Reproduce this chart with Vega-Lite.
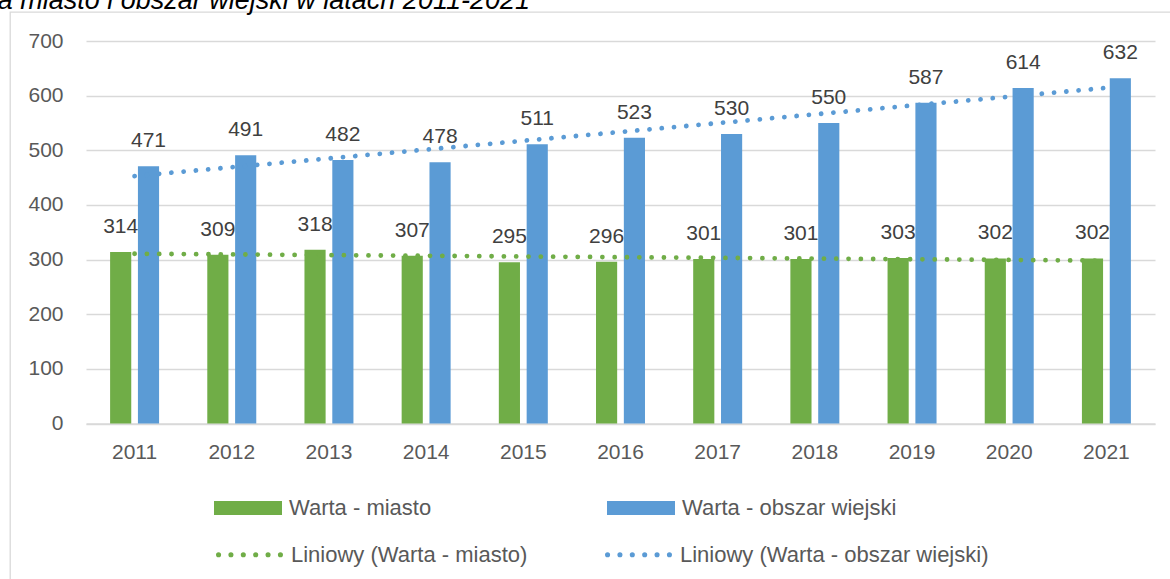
{
  "$schema": "https://vega.github.io/schema/vega-lite/v6.json",
  "autosize": {"type": "none"},
  "padding": {"left": 10, "top": 12, "right": 0, "bottom": 0},
  "width": 1165,
  "height": 570,
  "background": "white",
  "config": {
    "font": "Liberation Sans",
    "view": {"stroke": "#d9d9d9", "strokeWidth": 1.3}
  },
  "title": {
    "text": "Liczba mieszkańców gminy Warta miasto i obszar wiejski w latach 2011-2021",
    "anchor": "end",
    "frame": "group",
    "dx": -645,
    "dy": 30,
    "offset": 6,
    "baseline": "alphabetic",
    "fontSize": 27,
    "fontStyle": "italic",
    "fontWeight": "normal",
    "color": "#000000"
  },
  "data": {
    "values": [
      {"year": 2011, "series": "Warta - miasto", "trend": "Liniowy (Warta - miasto)", "value": 314},
      {"year": 2011, "series": "Warta - obszar wiejski", "trend": "Liniowy (Warta - obszar wiejski)", "value": 471},
      {"year": 2012, "series": "Warta - miasto", "trend": "Liniowy (Warta - miasto)", "value": 309},
      {"year": 2012, "series": "Warta - obszar wiejski", "trend": "Liniowy (Warta - obszar wiejski)", "value": 491},
      {"year": 2013, "series": "Warta - miasto", "trend": "Liniowy (Warta - miasto)", "value": 318},
      {"year": 2013, "series": "Warta - obszar wiejski", "trend": "Liniowy (Warta - obszar wiejski)", "value": 482},
      {"year": 2014, "series": "Warta - miasto", "trend": "Liniowy (Warta - miasto)", "value": 307},
      {"year": 2014, "series": "Warta - obszar wiejski", "trend": "Liniowy (Warta - obszar wiejski)", "value": 478},
      {"year": 2015, "series": "Warta - miasto", "trend": "Liniowy (Warta - miasto)", "value": 295},
      {"year": 2015, "series": "Warta - obszar wiejski", "trend": "Liniowy (Warta - obszar wiejski)", "value": 511},
      {"year": 2016, "series": "Warta - miasto", "trend": "Liniowy (Warta - miasto)", "value": 296},
      {"year": 2016, "series": "Warta - obszar wiejski", "trend": "Liniowy (Warta - obszar wiejski)", "value": 523},
      {"year": 2017, "series": "Warta - miasto", "trend": "Liniowy (Warta - miasto)", "value": 301},
      {"year": 2017, "series": "Warta - obszar wiejski", "trend": "Liniowy (Warta - obszar wiejski)", "value": 530},
      {"year": 2018, "series": "Warta - miasto", "trend": "Liniowy (Warta - miasto)", "value": 301},
      {"year": 2018, "series": "Warta - obszar wiejski", "trend": "Liniowy (Warta - obszar wiejski)", "value": 550},
      {"year": 2019, "series": "Warta - miasto", "trend": "Liniowy (Warta - miasto)", "value": 303},
      {"year": 2019, "series": "Warta - obszar wiejski", "trend": "Liniowy (Warta - obszar wiejski)", "value": 587},
      {"year": 2020, "series": "Warta - miasto", "trend": "Liniowy (Warta - miasto)", "value": 302},
      {"year": 2020, "series": "Warta - obszar wiejski", "trend": "Liniowy (Warta - obszar wiejski)", "value": 614},
      {"year": 2021, "series": "Warta - miasto", "trend": "Liniowy (Warta - miasto)", "value": 302},
      {"year": 2021, "series": "Warta - obszar wiejski", "trend": "Liniowy (Warta - obszar wiejski)", "value": 632}
    ]
  },
  "encoding": {
    "x": {
      "field": "year",
      "type": "ordinal",
      "scale": {"range": [76, 1145], "paddingInner": 0.496, "paddingOuter": 0.248},
      "axis": {
        "title": null,
        "orient": "bottom",
        "offset": -158.5,
        "labelAngle": 0,
        "labelFontSize": 21,
        "labelColor": "#595959",
        "labelPadding": 18,
        "ticks": false,
        "domain": true,
        "domainColor": "#d9d9d9",
        "domainWidth": 1.3,
        "grid": false
      }
    },
    "y": {
      "field": "value",
      "type": "quantitative",
      "scale": {"domain": [0, 700], "range": [411.5, 29], "nice": false},
      "axis": {
        "title": null,
        "values": [0, 100, 200, 300, 400, 500, 600, 700],
        "offset": -76,
        "labelFontSize": 21,
        "labelColor": "#595959",
        "labelPadding": 23,
        "ticks": false,
        "domain": false,
        "grid": true,
        "gridColor": "#d9d9d9",
        "gridWidth": 1.3
      }
    }
  },
  "layer": [
    {
      "mark": {"type": "bar"},
      "encoding": {
        "xOffset": {"field": "series", "type": "nominal", "scale": {"paddingInner": 0.24, "paddingOuter": 0}},
        "color": {
          "field": "series",
          "type": "nominal",
          "scale": {"domain": ["Warta - miasto", "Warta - obszar wiejski"], "range": ["#70AD47", "#5B9BD5"]},
          "legend": {
            "title": null,
            "orient": "none",
            "legendX": 204,
            "legendY": 462,
            "direction": "horizontal",
            "columns": 2,
            "columnPadding": 175,
            "padding": 0,
            "symbolType": "M-1,-0.206H1V0.206H-1Z",
            "symbolSize": 4624,
            "symbolStrokeWidth": 0,
            "labelOffset": 7,
            "labelFontSize": 22,
            "labelColor": "#595959",
            "labelLimit": 400
          }
        }
      }
    },
    {
      "mark": {"type": "text", "dy": -19, "baseline": "alphabetic", "fontSize": 21, "color": "#404040"},
      "encoding": {
        "xOffset": {"field": "series", "type": "nominal", "scale": {"paddingInner": 0.24, "paddingOuter": 0}},
        "text": {"field": "value", "type": "quantitative"}
      }
    },
    {
      "transform": [
        {"regression": "value", "on": "year", "groupby": ["trend"]}
      ],
      "mark": {"type": "line", "strokeDash": [0.01, 12.3], "strokeWidth": 4.8, "strokeCap": "round"},
      "encoding": {
        "stroke": {
          "field": "trend",
          "type": "nominal",
          "scale": {"domain": ["Liniowy (Warta - miasto)", "Liniowy (Warta - obszar wiejski)"], "range": ["#70AD47", "#5B9BD5"]},
          "legend": {
            "title": null,
            "orient": "none",
            "legendX": 204,
            "legendY": 507,
            "direction": "horizontal",
            "columns": 2,
            "columnPadding": 73,
            "padding": 0,
            "symbolType": "M-0.947,0a0.037,0.037 0 1,0 0.074,0a0.037,0.037 0 1,0 -0.074,0M-0.583,0a0.037,0.037 0 1,0 0.074,0a0.037,0.037 0 1,0 -0.074,0M-0.219,0a0.037,0.037 0 1,0 0.074,0a0.037,0.037 0 1,0 -0.074,0M0.145,0a0.037,0.037 0 1,0 0.074,0a0.037,0.037 0 1,0 -0.074,0M0.509,0a0.037,0.037 0 1,0 0.074,0a0.037,0.037 0 1,0 -0.074,0M0.873,0a0.037,0.037 0 1,0 0.074,0a0.037,0.037 0 1,0 -0.074,0",
            "symbolSize": 4624,
            "symbolStrokeWidth": 2.6,
            "symbolDash": [],
            "labelOffset": 6,
            "labelFontSize": 22,
            "labelColor": "#595959",
            "labelLimit": 400
          }
        }
      }
    }
  ]
}
